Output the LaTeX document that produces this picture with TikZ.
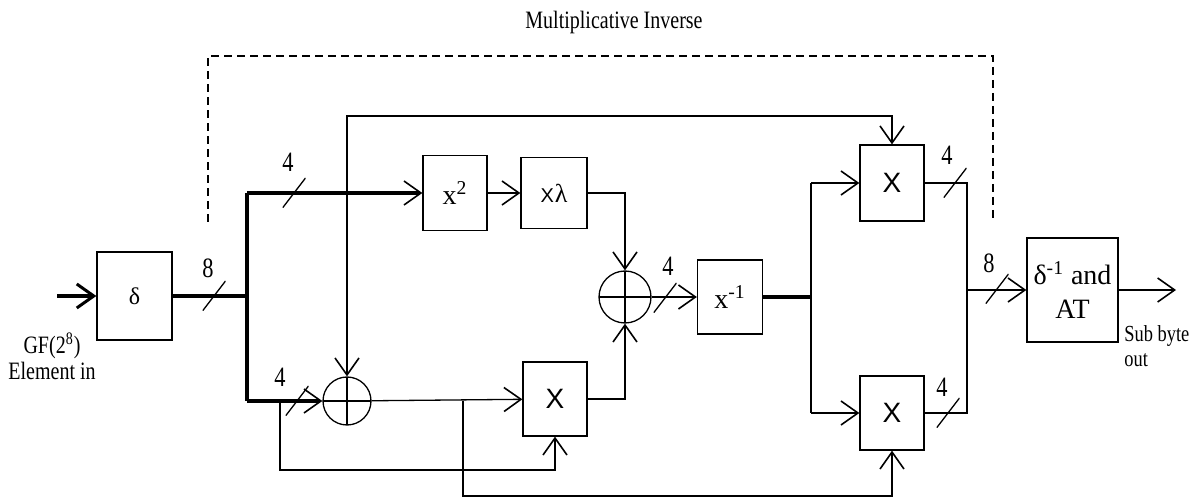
\documentclass[tikz,border=0pt]{standalone}
\usepackage{fontspec}
\setmainfont{Liberation Serif}
\setsansfont{Liberation Sans}
\newfontfamily\narrowfont[FakeStretch=0.8]{Liberation Serif}
\usetikzlibrary{arrows.meta,positioning,calc}

\begin{document}
\begin{tikzpicture}[
x=0.5pt, y=-0.5pt,
blk/.style={draw, line width=0.65pt, inner sep=0pt, align=center, minimum width=32pt, minimum height=37pt, font=\fontsize{14}{16}\selectfont},
xorc/.style={draw, circle, line width=0.65pt, inner sep=0pt, minimum size=26pt, path picture={\draw[line width=0.65pt] (path picture bounding box.north) -- (path picture bounding box.south) (path picture bounding box.west) -- (path picture bounding box.east);}},
wire/.style={line width=0.65pt},
bus/.style={line width=1.7pt},
arrow/.style={-{Straight Barb[length=8.5pt, width=12pt, line width=0.8pt]}},
bigarrow/.style={-{Straight Barb[length=8.5pt, width=12pt, line width=1.5pt]}},
slash/.style={inner sep=0pt, minimum width=11.5pt, minimum height=15pt, path picture={\draw[line width=0.65pt] (path picture bounding box.south west) -- (path picture bounding box.north east);}},
lbl/.style={inner sep=0pt, font=\narrowfont\fontsize{14}{16}\selectfont},
txt/.style={inner sep=0pt, align=center, font=\narrowfont\fontsize{12.5}{13}\selectfont}
]
\useasboundingbox (0,0) rectangle (1204,501);

% blocks
\node[blk, minimum width=37.5pt, minimum height=44pt, font=\fontsize{12}{14}\selectfont] (delta) at (134.5,296) {δ};
\node[blk, minimum height=37.5pt] (sq) at (455,193) {x\textsuperscript{2}};
\node[blk, minimum width=33pt, minimum height=35.5pt] (lam) at (554,193) {{\sffamily\fontsize{10}{12}\selectfont X}\kern0.5pt{\fontsize{13}{14}\selectfont λ}};
\node[xorc] (xorA) at (625,297) {};
\node[xorc, minimum size=24pt] (xorB) at (347,401) {};
\node[blk] (mulmid) at (555,399) {\sffamily X};
\node[blk, minimum width=32.5pt] (xinv) at (730,297) {x\textsuperscript{-1}};
\node[blk, minimum height=38pt] (multop) at (892,183) {\sffamily X};
\node[blk] (mulbot) at (892,413) {\sffamily X};
\node[blk, minimum width=45.5pt, minimum height=52pt, font=\fontsize{14}{17}\selectfont] (dinv) at (1072.5,290) {δ\textsuperscript{-1} and\\AT};

% labels
\node[txt, font=\narrowfont\fontsize{12.5}{15}\selectfont] (title) at (614,22) {Multiplicative Inverse};
\node[txt] (gfin) at (52,356) {GF(2\textsuperscript{8})\\Element in};
\node[txt, align=left, anchor=north west, font=\narrowfont\fontsize{11.5}{12.5}\selectfont] (subout) at (1124,325) {Sub byte\\out};

% junctions
\coordinate (din) at (57,296);
\coordinate (jmid) at (247,296);
\coordinate (jtop) at (247,193);
\coordinate (jbot) at (247,401);
\coordinate (jhi) at (347,193);
\coordinate (ttop) at (347,116);
\coordinate (jlo) at (280,401);
\coordinate (rowA) at (280,470);
\coordinate (jxb) at (463,401);
\coordinate (rowB) at (463,496);
\coordinate (jx) at (811,297);
\coordinate (jxt) at (811,183);
\coordinate (jxb2) at (811,413);
\coordinate (rt) at (967,183);
\coordinate (rb) at (967,413);
\coordinate (jo) at (967,290);
\coordinate (sout) at (1176,290);
\coordinate (mlb) at (208,222);
\coordinate (mlt) at (208,56);
\coordinate (mrt) at (993,56);
\coordinate (mrb) at (993,222);

% dashed boundary
\draw[wire, dash pattern=on 4pt off 2.5pt] (mlb) -- (mlt) -- (mrt) -- (mrb);

% connectors
\draw[bus, bigarrow] (din) -- (delta);
\draw[bus] (delta) -- (jmid);
\draw[bus] (jtop) -- (jbot);
\draw[bus, arrow] (jtop) -- (sq);
\draw[bus, arrow] (jbot) -- (xorB);
\draw[wire, arrow] (sq) -- (lam);
\draw[wire, arrow] (lam) -| (xorA);
\draw[wire, arrow] (jhi) -- (xorB);
\draw[wire, arrow] (jhi) -- (ttop) -| (multop);
\draw[wire, arrow] (xorB) -- (mulmid);
\draw[wire, arrow] (jlo) -- (rowA) -| (mulmid);
\draw[wire, arrow] (jxb) -- (rowB) -| (mulbot);
\draw[wire, arrow] (mulmid) -| (xorA);
\draw[wire, arrow] (xorA) -- (xinv);
\draw[line width=2.4pt] (xinv) -- (jx);
\draw[wire] (jxt) -- (jxb2);
\draw[wire, arrow] (jxt) -- (multop);
\draw[wire, arrow] (jxb2) -- (mulbot);
\draw[wire] (multop) -- (rt) -- (rb) -- (mulbot);
\draw[wire, arrow] (jo) -- (dinv);
\draw[wire, arrow] (dinv) -- (sout);

% bus widths
\node[slash] (s8in) at (214,296) {};
\node[lbl] (n8in) at (208,268) {8};
\node[slash] (s4top) at (294,193) {};
\node[lbl] (n4top) at (288,162) {4};
\node[slash] (s4bot) at (297,401) {};
\node[lbl] (n4bot) at (280,377) {4};
\node[slash] (s4xor) at (665,298) {};
\node[lbl] (n4xor) at (668,266) {4};
\node[slash] (s4mt) at (955,183) {};
\node[lbl] (n4mt) at (947,155) {4};
\node[slash] (s4mb) at (948,413) {};
\node[lbl] (n4mb) at (942,387) {4};
\node[slash] (s8out) at (997,289) {};
\node[lbl] (n8out) at (989,263) {8};
\end{tikzpicture}
\end{document}
